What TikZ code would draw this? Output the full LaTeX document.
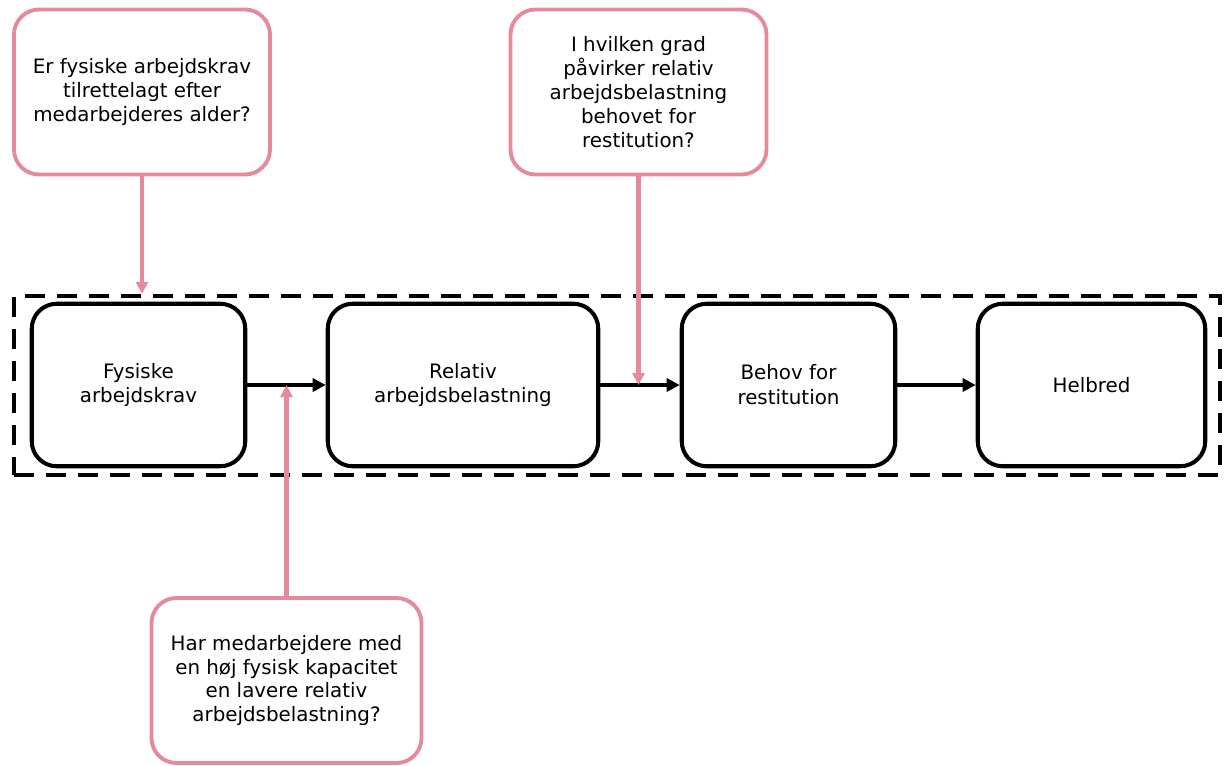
\documentclass[tikz,border=0pt]{standalone}
\usepackage{fontspec}
\setmainfont{DejaVu Sans}
\usetikzlibrary{arrows.meta, positioning}
\definecolor{qpink}{HTML}{E48A9A}

\tikzset{
  stepbox/.style={draw=black, line width=2.3pt, rounded corners=0.5cm, fill=white,
    minimum width=#1, minimum height=3.25cm, align=center,
    font=\fontsize{11.3}{14.2}\selectfont},
  qbox/.style={draw=qpink, line width=2.2pt, rounded corners=0.5cm,
    minimum width=#1, minimum height=3.3cm, align=center,
    font=\fontsize{11.3}{13.6}\selectfont},
  flow/.style={line width=2.2pt, -{Triangle[length=0.26cm, width=0.26cm]}},
  qarrow/.style={draw=qpink, line width=2.3pt, -{Triangle[length=0.24cm, width=0.24cm]}}
}

\begin{document}
\begin{tikzpicture}
  \useasboundingbox (0,0) rectangle (24.54,-15.30);

  % Dashed frame round the chain
  \node[draw, line width=2.4pt, dash pattern=on 0.4cm off 0.24cm,
    minimum width=24.12cm, minimum height=3.58cm] (frame) at (12.34,-7.71) {};

  % Main chain
  \node[stepbox=4.27cm] (krav) at (2.77,-7.70) {Fysiske\\arbejdskrav};
  \node[stepbox=5.41cm] (belast) at (9.26,-7.70) {Relativ\\arbejdsbelastning};
  \node[stepbox=4.27cm] (behov) at (15.77,-7.70) {Behov for\\restitution};
  \node[stepbox=4.55cm] (helbred) at (21.83,-7.70) {Helbred};

  \draw[flow] (krav.east) -- (belast.west);
  \draw[flow] (belast.east) -- (behov.west);
  \draw[flow] (behov.east) -- (helbred.west);

  % Questions
  \node[qbox=5.12cm] (q1) at (2.84,-1.84) {Er fysiske arbejdskrav\\tilrettelagt efter\\medarbejderes alder?};
  \node[qbox=5.12cm] (q2) at (12.77,-1.84) {I hvilken grad\\påvirker relativ\\arbejdsbelastning\\behovet for\\restitution?};
  \node[qbox=5.40cm] (q3) at (5.73,-13.61) {Har medarbejdere med\\en høj fysisk kapacitet\\en lavere relativ\\arbejdsbelastning?};

  \draw[qarrow] (q1.south) -- (q1.south |- frame.north);
  \draw[qarrow] (q2.south) -- (q2.south |- behov.west);
  \draw[qarrow] (q3.north) -- (q3.north |- krav.east);
\end{tikzpicture}
\end{document}
